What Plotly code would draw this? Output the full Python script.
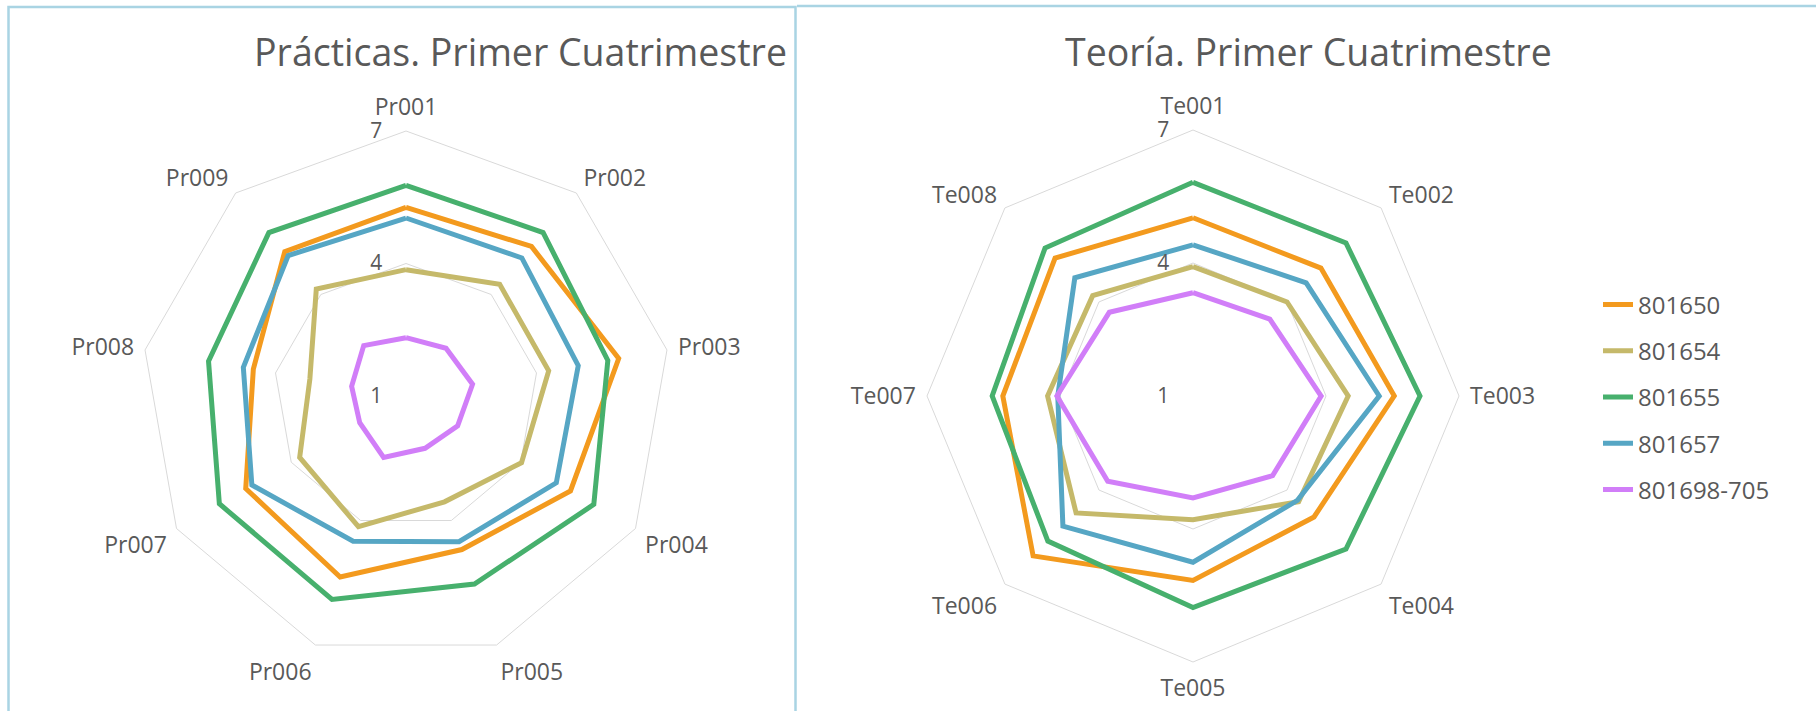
import plotly.graph_objects as go

W, H = 1816, 711

cats_pr = ["Pr001", "Pr002", "Pr003", "Pr004", "Pr005", "Pr006", "Pr007", "Pr008", "Pr009"]
cats_te = ["Te001", "Te002", "Te003", "Te004", "Te005", "Te006", "Te007", "Te008"]

series_names = ["801650", "801654", "801655", "801657", "801698-705"]
series_colors = ["#F39A1E", "#C5B96A", "#47B06D", "#56A6C4", "#D17EF8"]

pr_801650 = [5.27, 5.42, 5.89, 5.30, 4.70, 5.36, 5.19, 4.51, 5.27]
pr_801654 = [3.86, 4.30, 4.28, 4.02, 3.55, 4.15, 3.78, 3.21, 4.16]
pr_801655 = [5.77, 5.83, 5.64, 5.91, 5.53, 5.90, 5.88, 5.54, 5.83]
pr_801657 = [5.03, 5.08, 4.96, 4.93, 4.51, 4.50, 5.03, 4.74, 5.15]
pr_801698 = [2.32, 2.41, 2.53, 2.35, 2.26, 2.48, 2.21, 2.25, 2.49]

te_801650 = [5.02, 5.08, 5.54, 4.86, 5.16, 6.10, 5.29, 5.40]
te_801654 = [3.92, 4.00, 4.50, 4.37, 3.79, 4.73, 4.28, 4.20]
te_801655 = [5.82, 5.88, 6.12, 5.88, 5.77, 5.63, 5.53, 5.72]
te_801657 = [4.41, 4.61, 5.20, 4.33, 4.75, 5.15, 4.05, 4.77]
te_801698 = [3.33, 3.45, 3.89, 3.54, 3.30, 3.72, 4.07, 3.67]

radial_ticks = [1, 4, 7]
title_pr = "Prácticas. Primer Cuatrimestre"
title_te = "Teoría. Primer Cuatrimestre"

pr_series = [pr_801650, pr_801654, pr_801655, pr_801657, pr_801698]
te_series = [te_801650, te_801654, te_801655, te_801657, te_801698]

FONT = "Open Sans"
GRAY = "#595959"
GRID = "#d9d9d9"
LW = 5

fig = go.Figure()

for name, color, vals in zip(series_names, series_colors, pr_series):
    fig.add_trace(go.Scatterpolar(
        r=vals + vals[:1], theta=cats_pr + cats_pr[:1], mode="lines",
        line=dict(color=color, width=LW), name=name, legendgroup=name,
        showlegend=False, subplot="polar"))

for name, color, vals in zip(series_names, series_colors, te_series):
    fig.add_trace(go.Scatterpolar(
        r=vals + vals[:1], theta=cats_te + cats_te[:1], mode="lines",
        line=dict(color=color, width=LW), name=name, legendgroup=name,
        showlegend=True, subplot="polar2"))


def px_x(v):
    return v / W


def px_y(v):
    return 1 - v / H


def polar_cfg(cx, cy, R, cats):
    return dict(
        domain=dict(x=[px_x(cx - R), px_x(cx + R)], y=[px_y(cy + R), px_y(cy - R)]),
        gridshape="linear",
        bgcolor="white",
        radialaxis=dict(
            range=[1, 7], tickvals=radial_ticks, ticktext=[str(t) for t in radial_ticks],
            angle=90, tickangle=90, side="counterclockwise",
            showline=False, gridcolor=GRID, gridwidth=1,
            ticks="outside", ticklen=16, tickcolor="rgba(0,0,0,0)",
            tickfont=dict(family=FONT, size=21, color=GRAY),
        ),
        angularaxis=dict(
            categoryarray=cats, categoryorder="array",
            direction="clockwise", rotation=90,
            showline=True, linecolor=GRID, linewidth=1,
            showgrid=False,
            ticks="outside", ticklen=6, tickcolor="rgba(0,0,0,0)",
            tickfont=dict(family=FONT, size=23, color=GRAY),
        ),
    )


fig.update_layout(
    width=W, height=H,
    margin=dict(l=0, r=0, t=0, b=0),
    paper_bgcolor="white",
    polar=polar_cfg(406, 396, 265, cats_pr),
    polar2=polar_cfg(1193, 396, 266, cats_te),
    showlegend=True,
    legend=dict(
        x=px_x(1598), y=px_y(397), xanchor="left", yanchor="middle",
        font=dict(family=FONT, size=24, color=GRAY),
        traceorder="grouped", tracegroupgap=12,
        bgcolor="rgba(0,0,0,0)",
    ),
    annotations=[
        dict(text=title_pr, x=px_x(520), y=px_y(51), xref="paper", yref="paper",
             xanchor="center", yanchor="middle", showarrow=False,
             font=dict(family=FONT, size=37.5, color=GRAY)),
        dict(text=title_te, x=px_x(1308), y=px_y(51), xref="paper", yref="paper",
             xanchor="center", yanchor="middle", showarrow=False,
             font=dict(family=FONT, size=37.5, color=GRAY)),
    ],
    shapes=[
        dict(type="rect", xref="paper", yref="paper",
             x0=px_x(8.5), x1=px_x(795.5), y0=-0.05, y1=px_y(7),
             line=dict(color="#A9D4E3", width=2.5), layer="below"),
        dict(type="line", xref="paper", yref="paper",
             x0=px_x(797), x1=1.0, y0=px_y(6), y1=px_y(6),
             line=dict(color="#A9D4E3", width=2.5), layer="below"),
    ],
)

fig.write_html(
    "out.html",
    config={"displayModeBar": False},
    post_script="document.body.style.margin='0';document.body.style.overflow='hidden';",
)
